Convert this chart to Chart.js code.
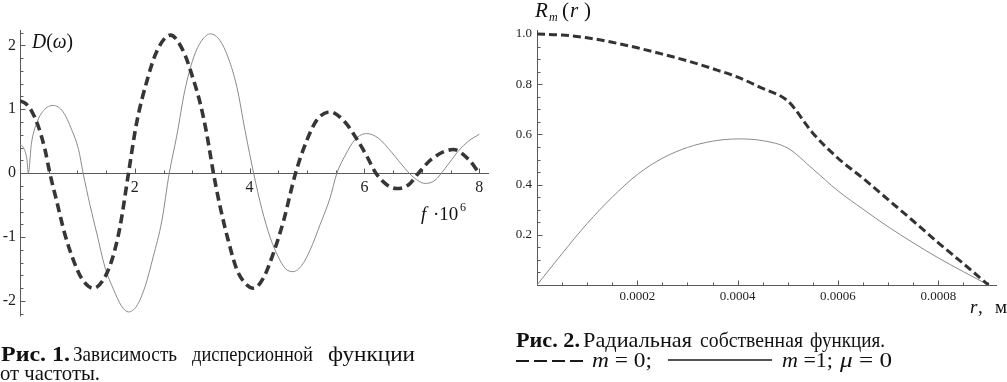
<!DOCTYPE html>
<html>
<head>
<meta charset="utf-8">
<script src="https://cdn.jsdelivr.net/npm/chart.js@4.4.1/dist/chart.umd.min.js"></script>
<style>
  html, body { margin: 0; padding: 0; background: #fff; }
  #page { position: relative; width: 1007px; height: 382px; overflow: hidden; }
  .plot { position: absolute; top: 0; }
  #overlay { position: absolute; left: 0; top: 0; }
  #overlay text { font-family: 'Liberation Serif', 'DejaVu Serif', serif; fill: #111; }
</style>
</head>
<body>
<div id="page">
  <canvas id="dispersion" class="plot" style="left:0" width="500" height="330"></canvas>
  <canvas id="radial" class="plot" style="left:500px" width="507" height="330"></canvas>
  <svg id="overlay" width="1007" height="382">
    <!-- axis titles -->
    <text x="32" y="48" font-size="22" textLength="41" lengthAdjust="spacingAndGlyphs"><tspan font-style="italic">D</tspan>(<tspan font-style="italic">ω</tspan>)</text>
    <text y="220" font-size="19"><tspan x="421" font-style="italic">f</tspan><tspan x="433">·10</tspan><tspan x="460" y="211" font-size="12">6</tspan></text>
    <text y="17" font-size="21"><tspan x="535" font-style="italic">R</tspan><tspan x="549" y="21" font-size="12" font-style="italic">m</tspan><tspan x="562" y="17">(</tspan><tspan x="570" font-style="italic">r</tspan><tspan x="584">)</tspan></text>
    <text y="313" font-size="19"><tspan x="970" font-style="italic">r</tspan><tspan x="978">,</tspan><tspan x="995">м</tspan></text>

    <!-- caption 1 -->
    <text x="1" y="361" font-size="22" font-weight="bold" textLength="69" lengthAdjust="spacingAndGlyphs">Рис. 1.</text>
    <text x="73" y="361" font-size="22" textLength="104" lengthAdjust="spacingAndGlyphs">Зависимость</text>
    <text x="192" y="361" font-size="22" textLength="121" lengthAdjust="spacingAndGlyphs">дисперсионной</text>
    <text x="328" y="361" font-size="22" textLength="87" lengthAdjust="spacingAndGlyphs">функции</text>
    <text x="0" y="380" font-size="22" textLength="100" lengthAdjust="spacingAndGlyphs">от частоты.</text>

    <!-- caption 2 -->
    <text x="516" y="347" font-size="22" font-weight="bold" textLength="64" lengthAdjust="spacingAndGlyphs">Рис. 2.</text>
    <text x="583" y="347" font-size="22" textLength="109" lengthAdjust="spacingAndGlyphs">Радиальная</text>
    <text x="700" y="347" font-size="22" textLength="103" lengthAdjust="spacingAndGlyphs">собственная</text>
    <text x="810" y="347" font-size="22" textLength="75" lengthAdjust="spacingAndGlyphs">функция.</text>

    <line x1="516" y1="361" x2="584" y2="361" stroke="#1a1a1a" stroke-width="2" stroke-dasharray="13 5"></line>
    <text x="592" y="367" font-size="22" textLength="60" lengthAdjust="spacingAndGlyphs"><tspan font-style="italic">m</tspan> = 0;</text>
    <line x1="668" y1="360" x2="772" y2="360" stroke="#1a1a1a" stroke-width="1.6"></line>
    <text x="782" y="367" font-size="22" textLength="51" lengthAdjust="spacingAndGlyphs"><tspan font-style="italic">m</tspan> =1;</text>
    <text x="840" y="367" font-size="22" textLength="52" lengthAdjust="spacingAndGlyphs"><tspan font-style="italic">μ</tspan> = 0</text>
  </svg>
</div>
<script>
// Рис. 1: D(ω) vs f·10^6
const dispDashF = [0, 0.1, 0.2, 0.32, 0.435, 0.52, 0.64, 0.78, 0.93, 1.07, 1.28, 1.45, 1.6, 1.74, 1.89, 2.03, 2.21, 2.38,
  2.62, 2.85, 2.99, 3.14, 3.25, 3.37, 3.48, 3.63, 3.77, 3.92, 4.07, 4.24, 4.41, 4.59, 4.8, 4.99, 5.17, 5.4,
  5.66, 5.87, 6.04, 6.2, 6.39, 6.56, 6.77, 6.94, 7.17, 7.55, 7.81, 8.0];
const dispDashD = [1.13, 1.09, 0.975, 0.73, 0.37, 0, -0.44, -0.95, -1.36, -1.64, -1.8, -1.67, -1.36, -0.85, 0, 0.78, 1.44, 1.9,
  2.16, 1.9, 1.55, 1.09, 0.63, 0, -0.5, -1.06, -1.49, -1.72, -1.8, -1.64, -1.26, -0.75, 0, 0.5, 0.83, 0.96,
  0.8, 0.53, 0.27, 0, -0.18, -0.24, -0.18, 0, 0.22, 0.37, 0.22, 0];

const dispSolidF = [0, 0.06, 0.12, 0.145, 0.2, 0.29, 0.41, 0.58, 0.75, 0.9, 1.02, 1.1, 1.22, 1.34, 1.48, 1.63, 1.77, 1.89,
  2.03, 2.18, 2.32, 2.47, 2.6, 2.73, 2.87, 3.02, 3.17, 3.32, 3.48, 3.63, 3.78, 3.92, 4.07, 4.21, 4.36, 4.5,
  4.62, 4.76, 4.91, 5.05, 5.23, 5.4, 5.52, 5.66, 5.84, 6.04, 6.24, 6.48, 6.71, 6.85, 7.06, 7.23, 7.4, 7.64, 7.81, 8.0];
const dispSolidD = [0.45, 0.4, 0.22, 0, 0.47, 0.78, 0.98, 1.06, 0.96, 0.68, 0.37, 0, -0.5, -0.95, -1.47, -1.82, -2.08, -2.17,
  -2.08, -1.77, -1.31, -0.75, 0, 0.58, 1.29, 1.8, 2.08, 2.18, 2.08, 1.8, 1.34, 0.67, 0, -0.55, -1.01, -1.31,
  -1.49, -1.54, -1.44, -1.21, -0.8, -0.39, 0, 0.27, 0.53, 0.62, 0.55, 0.32, 0.07, -0.06, -0.16, -0.11, 0.07, 0.35, 0.5, 0.61];

const dispXTicks = [2, 4, 6, 8];
const dispYTicks = [-2, -1, 0, 1, 2];

// Рис. 2: R_m(r)
const radR = [0, 0.00005, 0.0001, 0.00015, 0.0002, 0.00025, 0.0003, 0.00035, 0.0004, 0.00045, 0.0005,
  0.00055, 0.0006, 0.00065, 0.0007, 0.00075, 0.0008, 0.00085, 0.0009];
const radM0 = [1.0, 0.996, 0.985, 0.967, 0.945, 0.92, 0.893, 0.862, 0.828, 0.783, 0.733,
  0.605, 0.505, 0.425, 0.34, 0.255, 0.168, 0.085, 0];
const radM1 = [0, 0.125, 0.245, 0.35, 0.44, 0.505, 0.548, 0.573, 0.582, 0.575, 0.545,
  0.462, 0.375, 0.302, 0.232, 0.168, 0.108, 0.053, 0];

const radXTicks = [0.0002, 0.0004, 0.0006, 0.0008];
const radYTicks = [0.2, 0.4, 0.6, 0.8, 1.0];

const serif = "'Liberation Serif', 'DejaVu Serif', serif";

function pairs(xs, ys) {
  return xs.map((x, i) => ({ x: x, y: ys[i] }));
}

function isMultiple(v, step) {
  const q = v / step;
  return Math.abs(q - Math.round(q)) < 1e-6;
}

// Mathematica-style axes through the origin with inward ticks
const mathAxes = {
  id: 'mathAxes',
  beforeDatasetsDraw(chart, args, opts) {
    const { ctx, chartArea: a, scales: { x, y } } = chart;
    const px = Math.round(x.getPixelForValue(0)) + 0.5;
    const py = Math.round(y.getPixelForValue(0)) + 0.5;
    ctx.save();
    ctx.strokeStyle = opts.color;
    ctx.lineWidth = 1;
    ctx.beginPath();
    ctx.moveTo(a.left, py);
    ctx.lineTo(a.right, py);
    ctx.moveTo(px, a.top);
    ctx.lineTo(px, a.bottom);
    for (let i = 1; i * opts.xMinor <= x.max + 1e-12; i++) {
      const v = i * opts.xMinor;
      const p = Math.round(x.getPixelForValue(v)) + 0.5;
      ctx.moveTo(p, py);
      ctx.lineTo(p, py - (isMultiple(v, opts.xMajor) ? 5 : 3));
    }
    for (let i = Math.ceil(y.min / opts.yMinor - 1e-9); i * opts.yMinor <= y.max + 1e-12; i++) {
      if (i === 0) continue;
      const v = i * opts.yMinor;
      const p = Math.round(y.getPixelForValue(v)) + 0.5;
      ctx.moveTo(px, p);
      ctx.lineTo(px + (isMultiple(v, opts.yMajor) ? 5 : 3), p);
    }
    ctx.stroke();
    ctx.restore();
  }
};

// axis boxes keep a fixed size so labels are not clipped and the plot area lands where it should
function baseOptions(padding, yWidth, xHeight, tickSize) {
  return {
    responsive: false,
    animation: false,
    events: [],
    layout: { padding: padding },
    plugins: { legend: { display: false }, tooltip: { enabled: false } },
    elements: { point: { radius: 0 }, line: { cubicInterpolationMode: 'monotone', fill: false } },
    scales: {
      x: {
        type: 'linear',
        grid: { display: false, drawTicks: false },
        border: { display: false },
        afterFit: s => { s.height = xHeight; },
        ticks: { font: { family: serif, size: tickSize }, color: '#1e1e1e', maxRotation: 0, autoSkip: false }
      },
      y: {
        type: 'linear',
        position: 'left',
        grid: { display: false, drawTicks: false },
        border: { display: false },
        afterFit: s => { s.width = yWidth; },
        ticks: { font: { family: serif, size: tickSize }, color: '#1e1e1e', autoSkip: false, padding: 4 }
      }
    }
  };
}

// left chart
const dispOpts = baseOptions({ left: 0, top: 30, right: 11, bottom: 8 }, 20, 0, 16);
Object.assign(dispOpts.scales.x, {
  min: 0, max: 8.17, position: { y: 0 },
  afterBuildTicks: s => { s.ticks = dispXTicks.map(v => ({ value: v })); }
});
dispOpts.scales.x.ticks.padding = 5;
dispOpts.scales.x.ticks.callback = v => String(v);
Object.assign(dispOpts.scales.y, {
  min: -2.24, max: 2.24,
  afterBuildTicks: s => { s.ticks = dispYTicks.map(v => ({ value: v })); }
});
dispOpts.scales.y.ticks.callback = v => String(v);
dispOpts.plugins.mathAxes = { color: '#5a5a5a', xMinor: 0.5, xMajor: 2, yMinor: 0.2, yMajor: 1 };

new Chart(document.getElementById('dispersion'), {
  type: 'line',
  data: {
    datasets: [
      { data: pairs(dispDashF, dispDashD), borderColor: '#363636', borderWidth: 3.6, borderDash: [9, 5] },
      { data: pairs(dispSolidF, dispSolidD), borderColor: '#8a8a8a', borderWidth: 1 }
    ]
  },
  options: dispOpts,
  plugins: [mathAxes]
});

// right chart
const radOpts = baseOptions({ left: 0, top: 30, right: 10, bottom: 0 }, 37, 45, 13);
Object.assign(radOpts.scales.x, {
  min: 0, max: 0.000917, position: 'bottom',
  afterBuildTicks: s => { s.ticks = radXTicks.map(v => ({ value: v })); }
});
radOpts.scales.x.ticks.padding = 4;
radOpts.scales.x.ticks.callback = v => v.toFixed(4);
Object.assign(radOpts.scales.y, {
  min: 0, max: 1.016,
  afterBuildTicks: s => { s.ticks = radYTicks.map(v => ({ value: v })); }
});
radOpts.scales.y.ticks.padding = 5;
radOpts.scales.y.ticks.callback = v => v.toFixed(1);
radOpts.plugins.mathAxes = { color: '#5a5a5a', xMinor: 0.00005, xMajor: 0.0002, yMinor: 0.05, yMajor: 0.2 };

new Chart(document.getElementById('radial'), {
  type: 'line',
  data: {
    datasets: [
      { data: pairs(radR, radM0), borderColor: '#333333', borderWidth: 3, borderDash: [8, 4] },
      { data: pairs(radR, radM1), borderColor: '#8a8a8a', borderWidth: 1 }
    ]
  },
  options: radOpts,
  plugins: [mathAxes]
});
</script>
</body>
</html>
